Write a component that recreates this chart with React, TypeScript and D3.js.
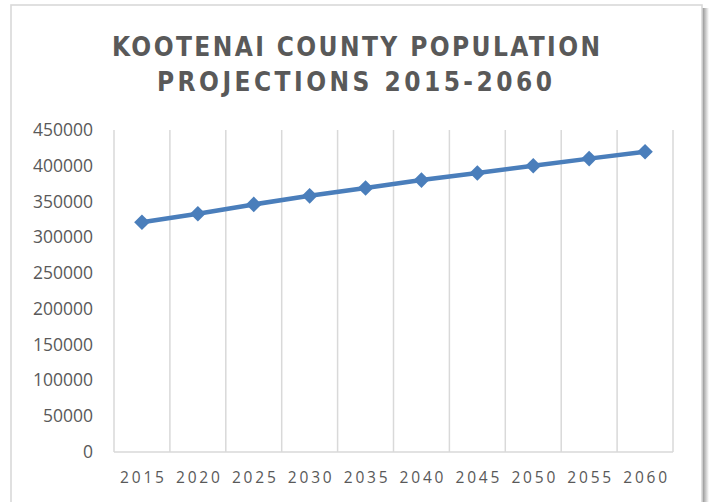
import React from "react";
import * as d3 from "d3";

const years = ["2015", "2020", "2025", "2030", "2035", "2040", "2045", "2050", "2055", "2060"];
const population = [321000, 333000, 346000, 358000, 369000, 380000, 390000, 400000, 410000, 419500];
const yTicks = [0, 50000, 100000, 150000, 200000, 250000, 300000, 350000, 400000, 450000];
const titleLines = ["KOOTENAI COUNTY POPULATION", "PROJECTIONS 2015-2060"];

const W = 712;
const H = 502;
const plot = { left: 114, right: 673, top: 130, bottom: 452 };

export default function App() {
  const x = d3.scaleBand<string>().domain(years).range([plot.left, plot.right]);
  const y = d3.scaleLinear().domain([0, 450000]).range([plot.bottom, plot.top]);
  const cx = (d: string) => (x(d) as number) + x.bandwidth() / 2;
  const line = d3
    .line<number>()
    .x((_, i) => cx(years[i]))
    .y((v) => y(v));
  const diamond = d3.symbol().type(d3.symbolDiamond2).size(155)();
  const gridXs = years.map((d) => (x(d) as number)).concat([plot.right]);

  return (
    <svg
      width={W}
      height={H}
      style={{ position: "absolute", left: 0, top: 0, background: "#fff" }}
    >
      <defs>
        <linearGradient id="shadowR" x1="0" x2="1" y1="0" y2="0">
          <stop offset="0" stopColor="#8c8c8c" />
          <stop offset="1" stopColor="#ffffff" />
        </linearGradient>
      </defs>
      {/* frame */}
      <rect x={702} y={8} width={7} height={H} fill="url(#shadowR)" />
      <rect x={11} y={5} width={691} height={H + 10} fill="#fff" stroke="#d9d9d9" strokeWidth={1.6} />

      {/* title */}
      {titleLines.map((t, i) => (
        <text
          key={t}
          x={(i === 0 ? 112 : 157)}
          y={55.5 + i * 35}
          textLength={i === 0 ? 488 : 395}
          lengthAdjust="spacing"
          fontFamily="'DejaVu Sans Condensed', 'DejaVu Sans', sans-serif"
          fontStretch="condensed"
          fontWeight="bold"
          fontSize={26}
          fill="#595959"
        >
          {t}
        </text>
      ))}

      {/* vertical gridlines */}
      {gridXs.map((gx, i) => (
        <line key={i} x1={gx} x2={gx} y1={plot.top} y2={plot.bottom} stroke="#d9d9d9" strokeWidth={1.5} />
      ))}
      <line x1={plot.left} x2={plot.right} y1={plot.bottom} y2={plot.bottom} stroke="#d9d9d9" strokeWidth={1.5} />

      {/* y labels */}
      {yTicks.map((t) => (
        <text
          key={t}
          x={93}
          y={y(t) + 6}
          textAnchor="end"
          fontFamily="'Open Sans', sans-serif"
          fontSize={17.5}
          fill="#595959"
        >
          {t}
        </text>
      ))}

      {/* x labels */}
      {years.map((d) => (
        <text
          key={d}
          x={cx(d) + 1.5}
          y={483}
          textAnchor="middle"
          fontFamily="'Open Sans', sans-serif"
          fontSize={15.5}
          letterSpacing={2.8}
          fill="#595959"
        >
          {d}
        </text>
      ))}

      {/* series */}
      <path d={line(population) || ""} fill="none" stroke="#4a7ebb" strokeWidth={4.5} strokeLinejoin="round" />
      {population.map((v, i) => (
        <path
          key={i}
          d={diamond || ""}
          transform={`translate(${cx(years[i])},${y(v)})`}
          fill="#4a7ebb"
        />
      ))}
    </svg>
  );
}
